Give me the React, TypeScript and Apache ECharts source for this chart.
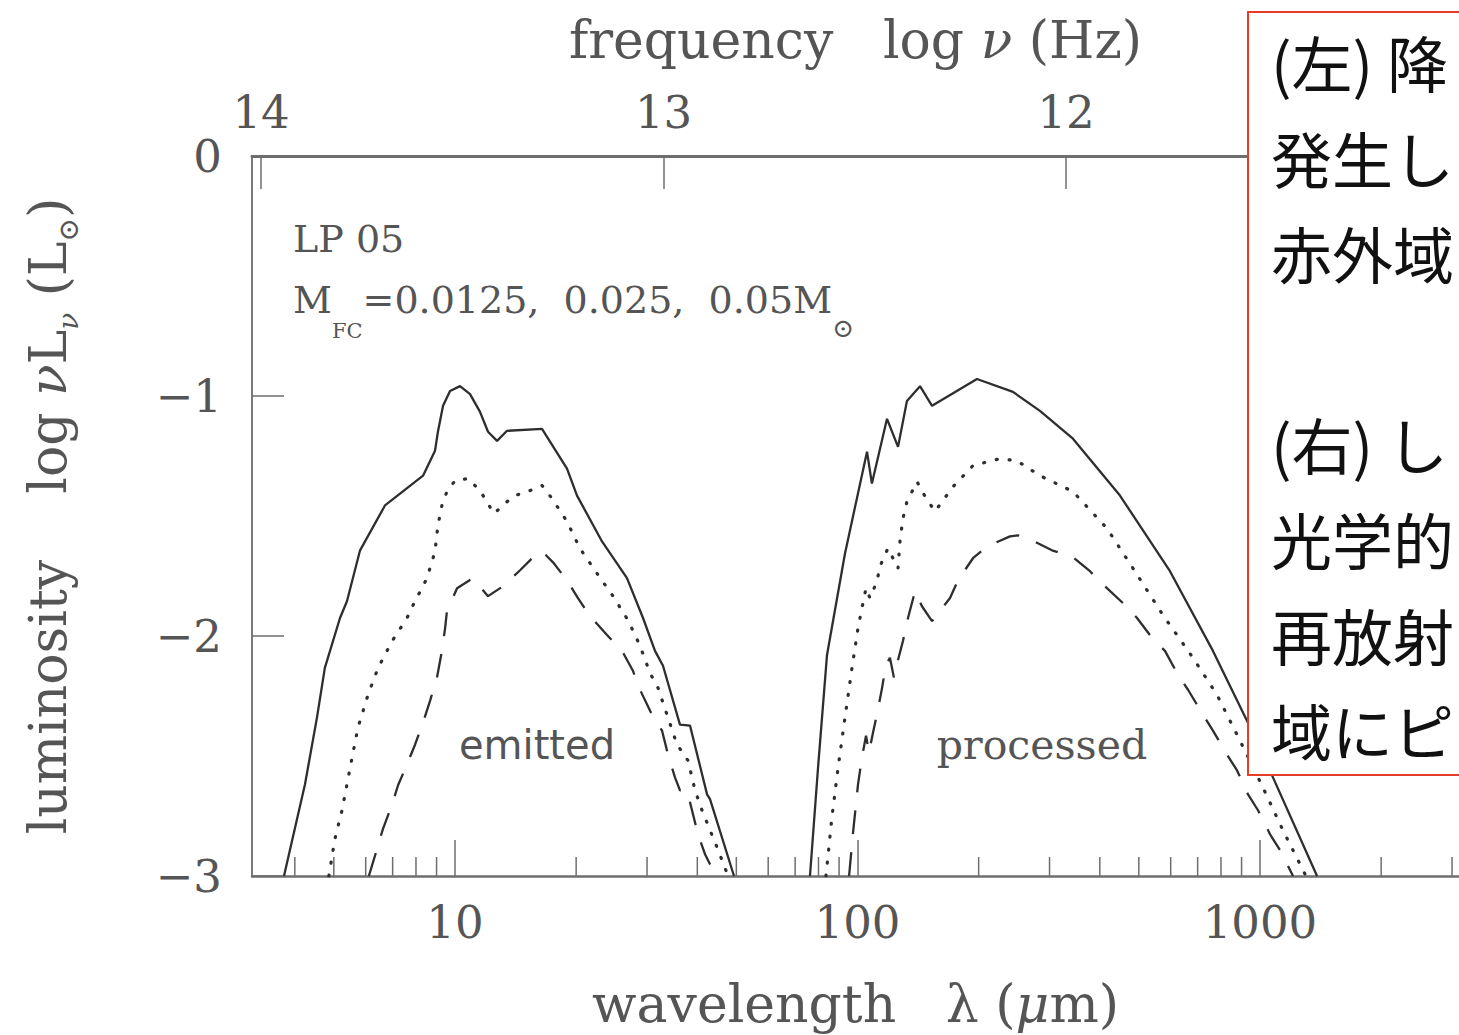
import React, { useEffect, useRef } from "react";
import * as echarts from "echarts";

const SERIF = '"DejaVu Serif", "Liberation Serif", serif';
const SANS = '"DejaVu Sans", "Noto Sans", sans-serif';
const CJK = '"Noto Sans CJK JP", "Noto Sans CJK SC", sans-serif';

// axis ranges
const LAMBDA_MIN = 3.131; // µm, left frame edge
const LAMBDA_MAX = 3122; // µm, right page edge
const LOGNU_MIN = 11.0236;
const LOGNU_MAX = 14.0224;

// minor wavelength ticks (µm)
const MINOR_TICKS = [4, 5, 6, 7, 8, 9, 20, 30, 40, 50, 60, 70, 80, 90, 200, 300, 400, 500, 600, 700, 800, 900, 2000, 3000];

// [wavelength µm, log νLν (L☉)]
// emitted, M_FC = 0.05 (solid)
const EMITTED_005 = [
  [3.76, -3.0], [3.89, -2.892], [4.24, -2.618], [4.54, -2.34], [4.75, -2.133], [5.18, -1.925],
  [5.39, -1.855], [5.81, -1.643], [6.7, -1.456], [8.33, -1.332], [8.92, -1.228], [9.07, -1.149],
  [9.34, -1.041], [9.72, -0.979], [10.29, -0.959], [10.9, -0.992], [11.54, -1.066], [12.08, -1.149],
  [12.72, -1.187], [13.47, -1.145], [16.45, -1.137], [18.98, -1.303], [20.1, -1.415], [23.19, -1.606],
  [26.75, -1.759], [29.32, -1.925], [31.4, -2.062], [32.87, -2.124], [36.22, -2.369], [38.36, -2.373],
  [42.29, -2.66], [43.01, -2.68], [49.34, -3.0],
];
// emitted, M_FC = 0.025 (dotted)
const EMITTED_0025 = [
  [4.86, -3.0], [5.03, -2.846], [5.24, -2.726], [5.49, -2.548], [5.74, -2.382], [6.08, -2.245],
  [6.44, -2.133], [6.98, -2.021], [7.6, -1.925], [7.87, -1.871], [8.52, -1.759], [8.92, -1.647],
  [9.07, -1.539], [9.28, -1.456], [9.55, -1.398], [10.0, -1.353], [10.77, -1.344], [11.54, -1.394],
  [12.5, -1.49], [13.47, -1.44], [14.1, -1.415], [15.36, -1.394], [16.45, -1.373], [17.42, -1.427],
  [18.98, -1.523], [20.44, -1.635], [22.53, -1.739], [24.7, -1.834], [26.9, -1.934], [28.82, -2.041],
  [30.51, -2.154], [31.94, -2.216], [33.63, -2.328], [35.61, -2.452], [37.93, -2.519], [39.48, -2.643],
  [41.09, -2.726], [43.01, -2.809], [44.77, -2.88], [47.69, -3.0],
];
// emitted, M_FC = 0.0125 (dashed)
const EMITTED_00125 = [
  [6.11, -3.0], [6.4, -2.888], [6.62, -2.805], [6.98, -2.701], [7.22, -2.622], [7.6, -2.535],
  [7.96, -2.452], [8.33, -2.361], [8.67, -2.27], [9.02, -2.174], [9.28, -2.062], [9.45, -1.967],
  [9.55, -1.896], [10.12, -1.801], [11.08, -1.759], [12.08, -1.834], [13.16, -1.793], [14.51, -1.726],
  [15.81, -1.664], [16.45, -1.647], [17.52, -1.693], [18.98, -1.768], [20.21, -1.842], [21.65, -1.917],
  [23.86, -1.996], [26.0, -2.062], [27.68, -2.145], [28.82, -2.224], [30.86, -2.328], [32.68, -2.394],
  [33.82, -2.494], [35.2, -2.589], [36.22, -2.643], [37.71, -2.643], [38.8, -2.726], [40.15, -2.826],
  [41.8, -2.909], [44.51, -3.0],
];
// processed, M_FC = 0.05 (solid)
const PROCESSED_005 = [
  [76.2, -3.0], [79.8, -2.548], [84.0, -2.079], [93.1, -1.656], [105.6, -1.232], [108.6, -1.365],
  [118.4, -1.095], [126.1, -1.212], [132.7, -1.021], [143.0, -0.959], [153.2, -1.041], [198.1, -0.929],
  [243.4, -0.983], [284.0, -1.062], [343.0, -1.178], [448.9, -1.415], [597.5, -1.73], [764.1, -2.062],
  [928.3, -2.353], [1077, -2.589], [1386, -3.0],
];
// processed, M_FC = 0.025 (dotted)
const PROCESSED_0025 = [
  [83.5, -3.0], [86.4, -2.755], [89.5, -2.548], [93.1, -2.34], [96.9, -2.133], [100.3, -1.967],
  [102.6, -1.884], [105.0, -1.801], [107.4, -1.842], [111.8, -1.772], [113.7, -1.71], [119.0, -1.635],
  [122.5, -1.676], [126.1, -1.718], [127.5, -1.606], [129.7, -1.51], [132.7, -1.44], [140.6, -1.357],
  [147.2, -1.419], [155.8, -1.481], [172.7, -1.378], [193.6, -1.29], [225.9, -1.261], [249.0, -1.27],
  [284.0, -1.332], [343.0, -1.398], [416.9, -1.552], [483.6, -1.718], [574.1, -1.913], [681.6, -2.091],
  [782.0, -2.245], [891.9, -2.436], [1017, -2.631], [1140, -2.809], [1301, -3.0],
];
// processed, M_FC = 0.0125 (dashed)
const PROCESSED_00125 = [
  [95.3, -3.0], [97.4, -2.826], [100.3, -2.618], [102.6, -2.506], [105.0, -2.415], [106.8, -2.485],
  [109.3, -2.402], [112.4, -2.307], [115.1, -2.216], [117.7, -2.12], [120.4, -2.091], [123.2, -2.174],
  [126.1, -2.1], [129.7, -2.021], [133.5, -1.925], [139.0, -1.813], [144.6, -1.876], [153.2, -1.938],
  [169.8, -1.842], [177.7, -1.768], [193.6, -1.676], [209.7, -1.627], [239.3, -1.585], [250.6, -1.581],
  [265.3, -1.593], [304.2, -1.643], [341.2, -1.668], [378.1, -1.73], [412.1, -1.793], [456.7, -1.863],
  [494.9, -1.925], [539.3, -2.008], [580.7, -2.062], [625.7, -2.162], [662.5, -2.224], [721.8, -2.328],
  [764.1, -2.394], [827.9, -2.494], [876.9, -2.56], [933.8, -2.66], [988.6, -2.726], [1059, -2.826],
  [1121, -2.892], [1208, -3.0],
];

const NOTE_LINES = ["(左) 降", "発生し", "赤外域", "", "(右) し", "光学的", "再放射", "域にピ"];

const INK = "#2e2e2e";
const AXIS = "#6e6e6e";
const TXT = "#555";
const NAME_SIZE = 52;

export default function App() {
  const ref = useRef<HTMLDivElement>(null);

  useEffect(() => {
    if (!ref.current) return;
    const chart = echarts.init(ref.current, undefined, { renderer: "svg" });

    const SOLID = { type: "solid" as const, width: 2.3 };
    const DOTTED = { type: [1, 12], width: 3.2, cap: "round" as const };
    const DASHED = { type: [24, 18], width: 2.3 };

    const mk = (name: string, data: number[][], st: any) => ({
      name,
      type: "line",
      data,
      symbol: "none",
      showSymbol: false,
      silent: true,
      smooth: false,
      z: 3,
      lineStyle: { color: INK, ...st },
    });

    const nameRich = {
      it: { fontFamily: SERIF, fontSize: NAME_SIZE, color: TXT, fontStyle: "italic" },
    };

    chart.setOption({
      animation: false,
      backgroundColor: "#ffffff",
      grid: { left: 252, right: 0, top: 156, bottom: 156, containLabel: false },
      xAxis: [
        {
          type: "log",
          logBase: 10,
          min: LAMBDA_MIN,
          max: LAMBDA_MAX,
          position: "bottom",
          name: "wavelength\u00a0\u00a0\u00a0λ ({it|μ}m)",
          nameLocation: "middle",
          nameGap: 102,
          nameTextStyle: { fontFamily: SERIF, fontSize: NAME_SIZE, color: TXT, rich: nameRich },
          axisLine: { show: true, onZero: false, lineStyle: { color: AXIS, width: 2.5 } },
          axisTick: { show: true, inside: true, length: 36, lineStyle: { color: AXIS, width: 1.5 } },
          minorTick: { show: false },
          axisLabel: {
            fontFamily: SERIF,
            fontSize: 45,
            color: TXT,
            margin: 24,
            showMinLabel: false,
            showMaxLabel: false,
            formatter: (v: number) => String(Math.round(v)),
          },
          splitLine: { show: false },
        },
        {
          type: "value",
          position: "top",
          inverse: true,
          min: LOGNU_MIN,
          max: LOGNU_MAX,
          splitNumber: 3,
          name: "frequency\u00a0\u00a0\u00a0log {it|ν} (Hz)",
          nameLocation: "middle",
          nameGap: 90,
          nameTextStyle: { fontFamily: SERIF, fontSize: NAME_SIZE, color: TXT, rich: nameRich },
          axisLine: { show: true, onZero: false, lineStyle: { color: AXIS, width: 3 } },
          axisTick: { show: true, inside: true, length: 33, lineStyle: { color: AXIS, width: 1.5 } },
          axisLabel: {
            fontFamily: SERIF,
            fontSize: 45,
            color: TXT,
            margin: 21,
            showMinLabel: false,
            showMaxLabel: false,
            formatter: (v: number) => String(Math.round(v)),
          },
          splitLine: { show: false },
        },
      ],
      yAxis: {
        type: "value",
        min: -3,
        max: 0,
        interval: 1,
        position: "left",
        name: "{m|luminosity\u00a0\u00a0\u00a0\u00a0log }{mi|ν}{m|L}{s|ν}{m| (L}{s|⊙}{m|)}",
        nameLocation: "middle",
        nameGap: 170,
        nameTextStyle: {
          fontFamily: SERIF,
          fontSize: NAME_SIZE,
          color: TXT,
          rich: {
            m: { fontFamily: SERIF, fontSize: NAME_SIZE, color: TXT, lineHeight: 60, verticalAlign: "top" },
            mi: { fontFamily: SERIF, fontSize: NAME_SIZE, color: TXT, lineHeight: 60, verticalAlign: "top", fontStyle: "italic" },
            s: { fontFamily: SERIF, fontSize: 28, color: TXT, lineHeight: 22, verticalAlign: "bottom", fontStyle: "italic" },
          },
        },
        axisLine: { show: true, onZero: false, lineStyle: { color: "#7a7a7a", width: 2 } },
        axisTick: { show: true, inside: true, length: 32, lineStyle: { color: AXIS, width: 1.5 } },
        axisLabel: {
          fontFamily: SERIF,
          fontSize: 45,
          color: TXT,
          margin: 30,
          formatter: (v: number) => (v === 0 ? "0" : "\u2212" + Math.abs(v)),
        },
        splitLine: { show: false },
      },
      series: [
        mk("emitted 0.05", EMITTED_005, SOLID),
        mk("emitted 0.025", EMITTED_0025, DOTTED),
        mk("emitted 0.0125", EMITTED_00125, DASHED),
        mk("processed 0.05", PROCESSED_005, SOLID),
        mk("processed 0.025", PROCESSED_0025, DOTTED),
        mk("processed 0.0125", PROCESSED_00125, DASHED),
        {
          name: "minor ticks",
          type: "custom",
          coordinateSystem: "cartesian2d",
          silent: true,
          clip: false,
          z: 2,
          data: MINOR_TICKS.map((v) => [v, -3]),
          encode: { x: 0, y: 1 },
          renderItem: (_p: any, api: any) => {
            const pt = api.coord([api.value(0), api.value(1)]);
            return {
              type: "line",
              shape: { x1: pt[0], y1: pt[1], x2: pt[0], y2: pt[1] - 19 },
              style: { stroke: AXIS, lineWidth: 1.5 },
            };
          },
        },
      ],
      graphic: [
        {
          type: "text",
          x: 293,
          y: 239,
          z: 10,
          style: { text: "LP\u00a005", fontFamily: SERIF, fontSize: 38, fill: TXT, align: "left", verticalAlign: "middle" },
        },
        {
          type: "text",
          x: 293,
          y: 311,
          z: 10,
          style: {
            text: "{m|M}{s|FC}{m|=0.0125,\u00a0\u00a00.025,\u00a0\u00a00.05M}{o|⊙}",
            align: "left",
            verticalAlign: "middle",
            fill: TXT,
            rich: {
              m: { fontFamily: SERIF, fontSize: 38, fill: TXT, lineHeight: 60, verticalAlign: "top" },
              s: { fontFamily: SERIF, fontSize: 21, fill: TXT, lineHeight: 21, verticalAlign: "bottom" },
              o: { fontFamily: SERIF, fontSize: 26, fill: TXT, lineHeight: 26, verticalAlign: "bottom" },
            },
          },
        },
        {
          type: "text",
          x: 537,
          y: 745,
          z: 10,
          style: { text: "emitted", fontFamily: SANS, fontSize: 40, fill: TXT, align: "center", verticalAlign: "middle" },
        },
        {
          type: "text",
          x: 1042,
          y: 745,
          z: 10,
          style: { text: "processed", fontFamily: SERIF, fontSize: 41, fill: TXT, align: "center", verticalAlign: "middle" },
        },
        {
          type: "rect",
          z: 100,
          shape: { x: 1248, y: 12, width: 260, height: 763 },
          style: { fill: "#ffffff", stroke: "#e83c26", lineWidth: 2 },
        },
        {
          type: "text",
          z: 101,
          x: 1271,
          y: 14.3,
          style: {
            text: NOTE_LINES.join("\n"),
            fontFamily: CJK,
            fontSize: 61,
            lineHeight: 95.4,
            fill: "#111",
            align: "left",
            verticalAlign: "top",
          },
        },
      ],
    });

    return () => chart.dispose();
  }, []);

  return (
    <div
      ref={ref}
      style={{ position: "absolute", left: 0, top: 0, width: 1459, height: 1035, background: "#fff", overflow: "hidden" }}
    />
  );
}
